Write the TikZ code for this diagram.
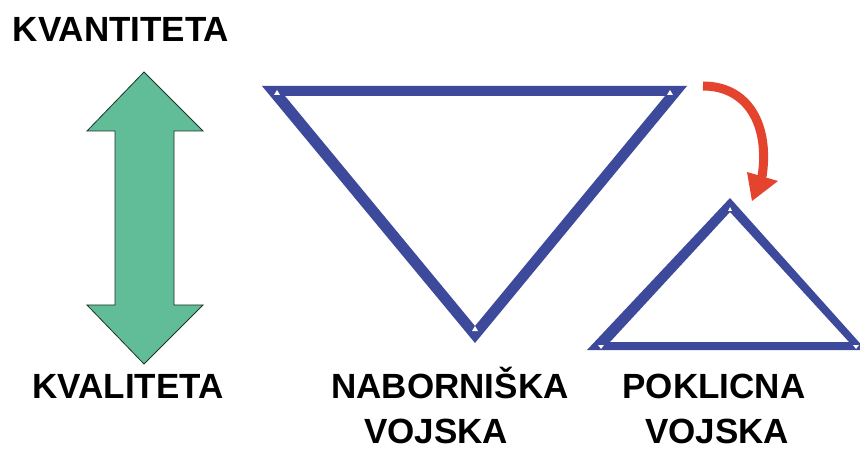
\documentclass[tikz,border=0pt]{standalone}
\usepackage{fontspec}
\setmainfont{Liberation Sans}
\usetikzlibrary{positioning}
\definecolor{arrowgreen}{HTML}{60BD98}
\definecolor{arrowedge}{HTML}{1E3328}
\definecolor{triblue}{HTML}{3D4A9B}
\definecolor{turnred}{HTML}{E4432E}

\begin{document}
\begin{tikzpicture}[
    x=1pt, y=-1pt,
    lbl/.style={anchor=base, inner sep=0pt, font=\fontsize{35}{40}\selectfont\bfseries},
    frame/.style={fill=triblue, even odd rule},
    tick/.style={fill=white},
]
\useasboundingbox (0,0) rectangle (860,449);

% labels
\node[lbl] (kvan) at (121,42) {KVANTITETA};
\node[lbl] (kval) at (128,398) {KVALITETA};
\node[lbl] (nab) at (450,398) {NABORNIŠKA};
\node[lbl] (nabv) at (436,443) {VOJSKA};
\node[lbl] (pok) at (714,398) {POKLICNA};
\node[lbl] (pokv) at (717,443) {VOJSKA};

% double arrow
\filldraw[fill=arrowgreen, draw=arrowedge, line width=0.8pt]
  (144,72) -- (203,131) -- (174,131) -- (174,305) -- (203,305)
  -- (144,364) -- (87,305) -- (115,305) -- (115,131) -- (87,131) -- cycle;

% conscript army
\fill[frame] (262,86) -- (687,86) -- (475,343) -- cycle
             (285,96) -- (665,96) -- (475,326) -- cycle;
\fill[tick] (277,90) -- (280,95) -- (274,95) -- cycle;
\fill[tick] (670,90) -- (673,95) -- (667,95) -- cycle;
\fill[tick] (475,326) -- (478,331) -- (472,331) -- cycle;

% professional army
\fill[frame] (730,198) -- (866,350) -- (587,350) -- cycle
             (730,212) -- (849,342) -- (610,342) -- cycle;
\fill[tick] (730,207) -- (732,211) -- (728,211) -- cycle;
\fill[tick] (598,345) -- (604,345) -- (601,349) -- cycle;
\fill[tick] (853,345) -- (859,345) -- (856,349) -- cycle;

% turn arrow
\coordinate (rs) at (703,86);
\coordinate (re) at (762,177);
\draw[turnred, line width=9pt] (rs) .. controls (748,86) and (770,125) .. (re);
\fill[turnred] (747,172) -- (778,181) -- (752,201) -- cycle;

\end{tikzpicture}
\end{document}
